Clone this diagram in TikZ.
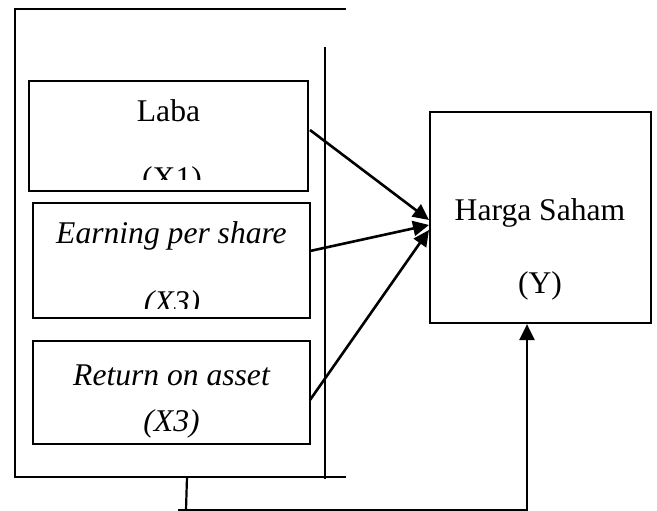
\documentclass[tikz,border=0pt]{standalone}
\usepackage{fontspec}
\setmainfont{Liberation Serif}
\usetikzlibrary{arrows.meta}
\begin{document}
\begin{tikzpicture}[x=1pt,y=-1pt,
  every node/.style={font=\fontsize{31.6}{38}\selectfont},
  box/.style={draw,line width=2.2pt,inner sep=0pt,rectangle},
  lbl/.style={anchor=base,inner sep=0pt},
  frame/.style={line width=2.2pt},
  arr/.style={line width=2.6pt,-{Triangle[length=16pt,width=15pt]}}]
\useasboundingbox (0,0) rectangle (657,511);
% frame
\draw[frame] (346,9) -- (15,9) -- (15,477) -- (346,477);
\draw[frame] (325,47) -- (325,479);
% boxes
\node[box,minimum width=279pt,minimum height=110pt] (laba) at (168.5,136) {};
\node[box,minimum width=277pt,minimum height=115pt] (eps) at (171.5,260.5) {};
\node[box,minimum width=277pt,minimum height=103pt] (roa) at (171.5,392.5) {};
\node[box,minimum width=221pt,minimum height=211pt] (hy) at (540.5,217.5) {};
% texts
\node[lbl] (t1) at (168.5,122) {Laba};
\begin{scope}
  \clip (29,81) rectangle (308,179);
  \node[lbl] (t1b) at (172,189) {(X1)};
\end{scope}
\node[lbl] (t2) at (171.5,243) {\itshape Earning per share};
\begin{scope}
  \clip (33,203) rectangle (310,308);
  \node[lbl] (t2b) at (172,312) {\itshape (X3)};
\end{scope}
\node[lbl] (t3) at (171.5,385) {\itshape Return on asset};
\node[lbl] (t3b) at (171.5,431) {\itshape (X3)};
\node[lbl] (ty) at (540,220) {Harga Saham};
\node[lbl] (tyb) at (540,293) {(Y)};
% connector points
\coordinate (s1) at (310,130);
\coordinate (s2) at (310,251);
\coordinate (s3) at (310,400);
\coordinate (e1) at (429,220);
\coordinate (e2) at (429,225);
\coordinate (e3) at (429,230);
\coordinate (f0) at (187,477);
\coordinate (f1) at (186,510);
\coordinate (f2) at (527,510);
\draw[arr] (s1) -- (e1);
\draw[arr] (s2) -- (e2);
\draw[arr] (s3) -- (e3);
\draw[line width=2.2pt] (f0) -- (f1);
\draw[arr] (178,510) -- (f2) -- (f2 |- hy.south);
\end{tikzpicture}
\end{document}
